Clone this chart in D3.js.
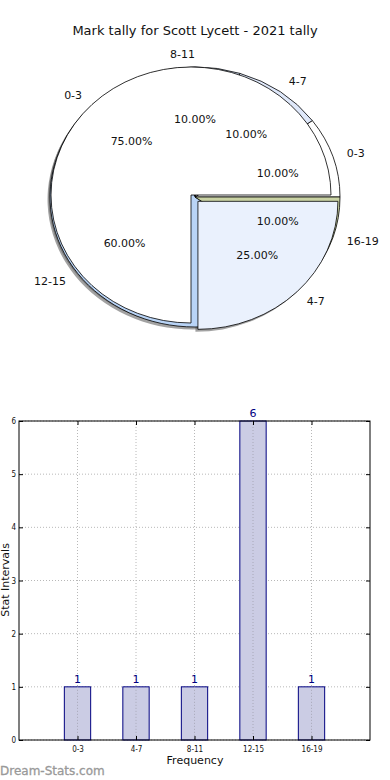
<!DOCTYPE html>
<html>
<head>
<meta charset="utf-8">
<script src="https://cdn.jsdelivr.net/npm/d3@7"></script>
<style>
  body { margin: 0; background: #fff; }
  svg { display: block; font-family: "DejaVu Sans", sans-serif; }
</style>
</head>
<body>
<div id="chart"></div>
<script>
// data
var title = "Mark tally for Scott Lycett - 2021 tally";
var categories = ["0-3", "4-7", "8-11", "12-15", "16-19"];
var counts = [1, 1, 1, 6, 1];
var pieColors = ["#ffffff", "#dfe8fa", "#d6e3f8", "#b9d4f6", "#c9d2a4"];
// second pie drawn over the first one
var pie2Labels = ["0-3", "4-7"];
var pie2Values = [75, 25];
var pie2Colors = ["#ffffff", "#eaf1fd"];
var yTicks = [0, 1, 2, 3, 4, 5, 6];

var w = 390, h = 780;

var svg = d3.select("#chart")
    .append("svg")
    .attr("width", w)
    .attr("height", h);

svg.append("text")
    .attr("x", 195)
    .attr("y", 35)
    .attr("text-anchor", "middle")
    .style("font-size", "13px")
    .style("fill", "#111")
    .text(title);

// matplotlib style pie: starts at 3 o'clock, counter-clockwise
var pieGen = d3.pie()
    .sort(null)
    .startAngle(Math.PI / 2)
    .endAngle(Math.PI / 2 - 2 * Math.PI);

var arcGen = d3.arc().innerRadius(0).outerRadius(1);

var pieA = { cx: 195, cy: 197, rx: 145, ry: 130 };
var pieB = { cx: 191, cy: 195, rx: 140, ry: 128 };

var arcsA = pieGen(counts);
var arcsB = pieGen(pie2Values);
var explodeB = [0, 0.07];

function midTheta(d) {
    return Math.PI / 2 - (d.startAngle + d.endAngle) / 2;
}

function centerOf(p, d, explode) {
    var t = midTheta(d);
    return {
        x: p.cx + explode * p.rx * Math.cos(t),
        y: p.cy - explode * p.ry * Math.sin(t)
    };
}

var shadowG = svg.append("g");
var wedgeG = svg.append("g");
var labelG = svg.append("g");

function drawPie(p, arcs, colors, labels, explode) {
    var total = d3.sum(arcs, function (a) { return a.value; });
    arcs.forEach(function (d, i) {
        var c = centerOf(p, d, explode ? explode[i] : 0);
        // shadow
        shadowG.append("path")
            .attr("d", arcGen(d))
            .attr("transform", "translate(" + (c.x - 2.5) + "," + (c.y + 2.5) + ") scale(" + p.rx + "," + p.ry + ")")
            .style("fill", "#555")
            .style("opacity", 0.55);
        wedgeG.append("path")
            .attr("d", arcGen(d))
            .attr("transform", "translate(" + c.x + "," + c.y + ") scale(" + p.rx + "," + p.ry + ")")
            .attr("vector-effect", "non-scaling-stroke")
            .style("fill", colors[i])
            .style("stroke", "#000")
            .style("stroke-width", 0.8);

        var t = midTheta(d);
        var anchor = Math.cos(t) > 1e-9 ? "start" : "end";
        labelG.append("text")
            .attr("x", c.x + 1.1 * p.rx * Math.cos(t))
            .attr("y", c.y - 1.1 * p.ry * Math.sin(t))
            .attr("dy", "0.35em")
            .attr("text-anchor", anchor)
            .style("font-size", "11px")
            .style("fill", "#111")
            .text(labels[i]);
        labelG.append("text")
            .attr("x", c.x + 0.6 * p.rx * Math.cos(t))
            .attr("y", c.y - 0.6 * p.ry * Math.sin(t))
            .attr("dy", "0.35em")
            .attr("text-anchor", "middle")
            .style("font-size", "11px")
            .style("fill", "#111")
            .text((d.value / total * 100).toFixed(2) + "%");
    });
}

drawPie(pieA, arcsA, pieColors, categories, null);
drawPie(pieB, arcsB, pie2Colors, pie2Labels, explodeB);

// bar chart
var plot = { left: 19, right: 370, top: 421, bottom: 740 };

var x = d3.scaleLinear().domain([0, 6]).range([plot.left, plot.right]);
var y = d3.scaleLinear().domain([0, 6]).range([plot.bottom, plot.top]);

var bars = svg.append("g");

// grid
bars.selectAll("line.hgrid")
    .data(yTicks)
    .enter()
    .append("line")
    .attr("x1", plot.left).attr("x2", plot.right)
    .attr("y1", function (d) { return y(d); })
    .attr("y2", function (d) { return y(d); })
    .style("stroke", "#b8b8b8")
    .style("stroke-dasharray", "1,2");

bars.selectAll("line.vgrid")
    .data(categories)
    .enter()
    .append("line")
    .attr("x1", function (d, i) { return x(i + 1); })
    .attr("x2", function (d, i) { return x(i + 1); })
    .attr("y1", plot.top).attr("y2", plot.bottom)
    .style("stroke", "#b8b8b8")
    .style("stroke-dasharray", "1,2");

var bw = x(0.45) - x(0);

bars.selectAll("rect.bar")
    .data(counts)
    .enter()
    .append("rect")
    .attr("x", function (d, i) { return x(i + 1) - bw / 2; })
    .attr("y", function (d) { return y(d); })
    .attr("width", bw)
    .attr("height", function (d) { return y(0) - y(d); })
    .style("fill", "#cbcce4")
    .style("stroke", "#000080")
    .style("stroke-width", 1);

// redraw the vertical grid over the bars, like the original
bars.selectAll("line.vgrid2")
    .data(counts)
    .enter()
    .append("line")
    .attr("x1", function (d, i) { return x(i + 1); })
    .attr("x2", function (d, i) { return x(i + 1); })
    .attr("y1", function (d) { return y(d); }).attr("y2", plot.bottom)
    .style("stroke", "#a8a8b8")
    .style("stroke-dasharray", "1,2");

bars.selectAll("text.val")
    .data(counts)
    .enter()
    .append("text")
    .attr("x", function (d, i) { return x(i + 1); })
    .attr("y", function (d) { return y(d) - 4; })
    .attr("text-anchor", "middle")
    .style("font-size", "11px")
    .style("fill", "#000080")
    .text(function (d) { return d; });

// axes with inward ticks on all sides
var yAxis = d3.axisLeft(y).tickValues(yTicks).tickSize(-4).tickPadding(3).tickFormat(d3.format("d"));
var yAxisR = d3.axisRight(y).tickValues(yTicks).tickSize(-4).tickFormat("");
var xAxis = d3.axisBottom(x).tickValues([1, 2, 3, 4, 5]).tickSize(-4).tickPadding(6)
    .tickFormat(function (d) { return categories[d - 1]; });
var xAxisT = d3.axisTop(x).tickValues([1, 2, 3, 4, 5]).tickSize(-4).tickFormat("");

function styleAxis(g) {
    g.select(".domain").remove();
    g.selectAll(".tick line").style("stroke", "#000");
    g.selectAll(".tick text").style("font-size", "8px").style("fill", "#111")
        .style("font-family", "'DejaVu Sans Condensed', 'DejaVu Sans', sans-serif");
}

svg.append("g").attr("transform", "translate(" + plot.left + ",0)").call(yAxis).call(styleAxis);
svg.append("g").attr("transform", "translate(" + plot.right + ",0)").call(yAxisR).call(styleAxis);
svg.append("g").attr("transform", "translate(0," + plot.bottom + ")").call(xAxis).call(styleAxis);
svg.append("g").attr("transform", "translate(0," + plot.top + ")").call(xAxisT).call(styleAxis);

svg.append("rect")
    .attr("x", plot.left).attr("y", plot.top)
    .attr("width", plot.right - plot.left)
    .attr("height", plot.bottom - plot.top)
    .style("fill", "none")
    .style("stroke", "#000")
    .style("stroke-width", 1);

svg.append("text")
    .attr("x", 195)
    .attr("y", 764)
    .attr("text-anchor", "middle")
    .style("font-size", "11px")
    .style("fill", "#111")
    .text("Frequency");

svg.append("text")
    .attr("transform", "translate(8.5,580) rotate(-90)")
    .attr("text-anchor", "middle")
    .style("font-size", "11px")
    .style("fill", "#111")
    .text("Stat Intervals");

svg.append("text")
    .attr("x", 0)
    .attr("y", 775)
    .style("font-size", "12px")
    .style("fill", "#999")
    .style("stroke", "#999")
    .style("stroke-width", 0.3)
    .text("Dream-Stats.com");
</script>
</body>
</html>
